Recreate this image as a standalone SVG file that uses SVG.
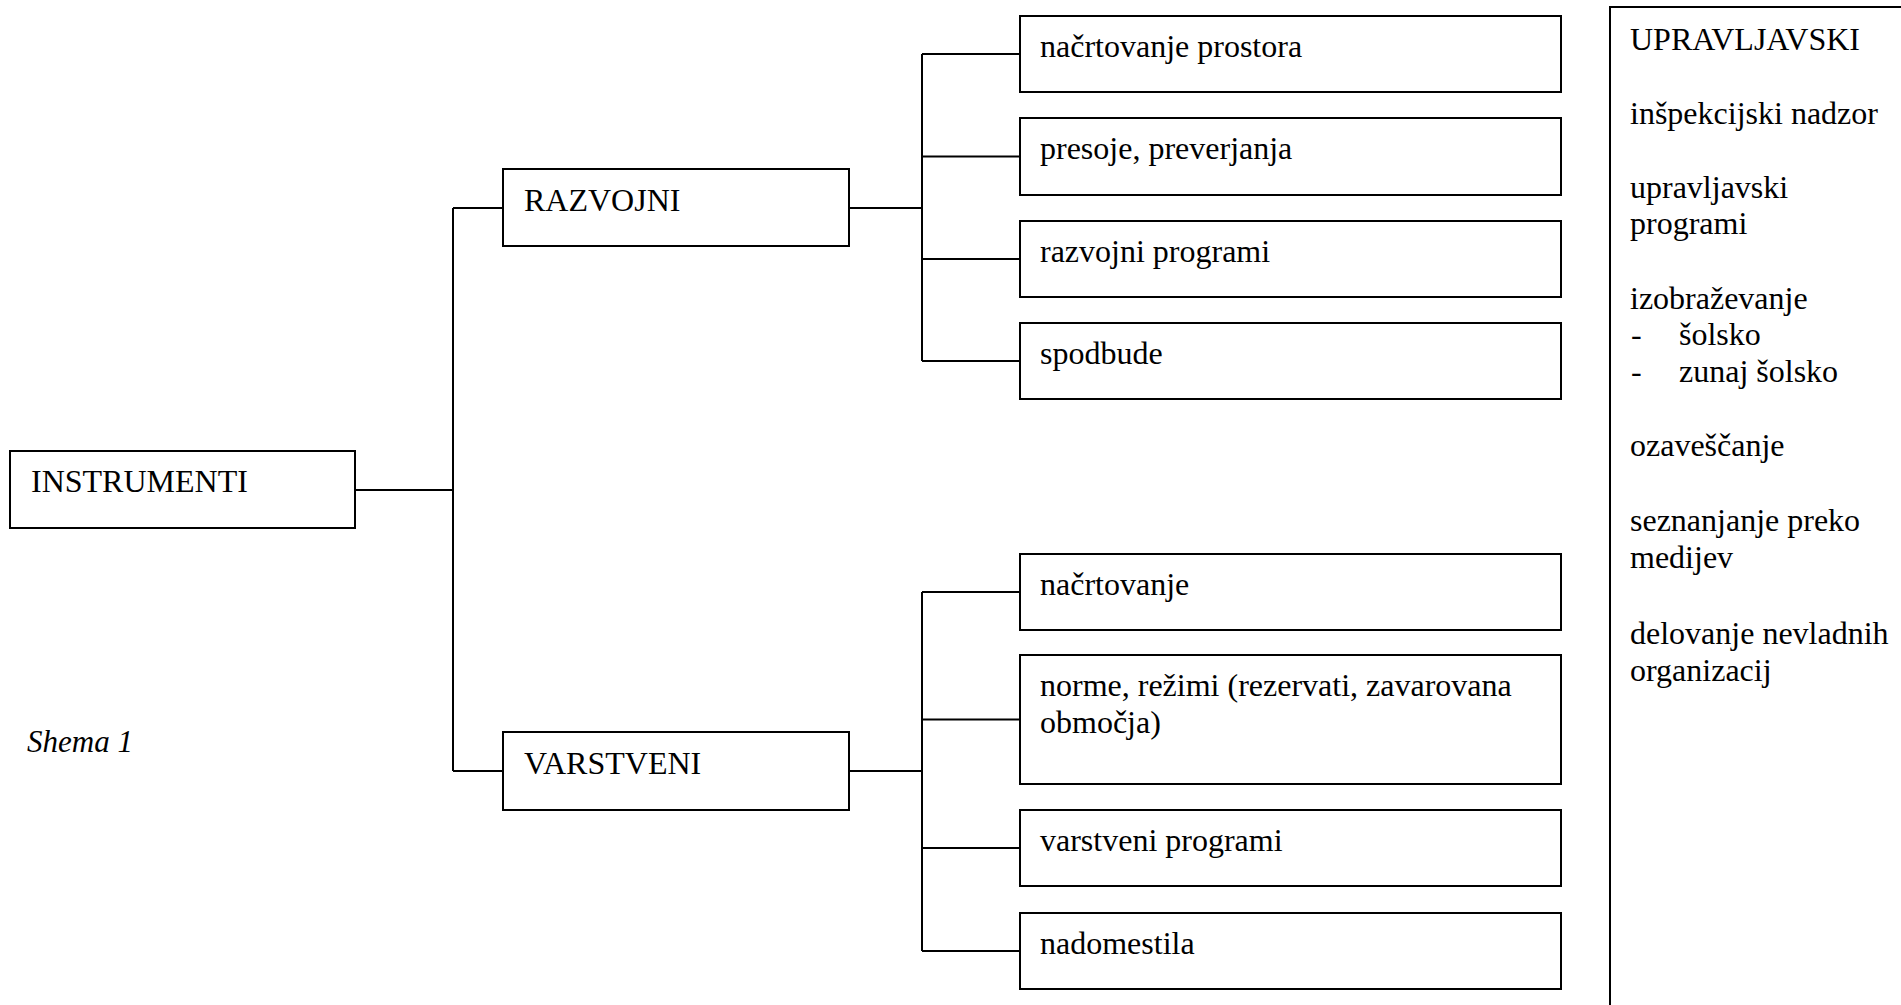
<svg xmlns="http://www.w3.org/2000/svg" width="1901" height="1005" viewBox="0 0 1901 1005">
<style>
  .box { fill: #ffffff; stroke: #000000; stroke-width: 2; }
  .ln { fill: none; stroke: #000000; stroke-width: 2; }
  .t { font-family: "Liberation Serif", "Times New Roman", serif; font-size: 32px; fill: #000000; }
  .it { font-family: "Liberation Serif", "Times New Roman", serif; font-size: 31px; font-style: italic; fill: #000000; }
</style>
<rect width="1901" height="1005" fill="#ffffff"/>
<g id="connectors">
  <path class="ln" d="M355 490 H453 M453 208 V771 M453 208 H503 M453 771 H503"/>
  <path class="ln" d="M849 208 H922 M922 54 V361 M922 54 H1020 M922 156.5 H1020 M922 259 H1020 M922 361 H1020"/>
  <path class="ln" d="M849 771 H922 M922 592 V951 M922 592 H1020 M922 719.5 H1020 M922 848 H1020 M922 951 H1020"/>
</g>
<g id="instrumenti">
  <rect class="box" x="10" y="451" width="345" height="77"/>
  <text class="t" x="31" y="492">INSTRUMENTI</text>
</g>
<g id="razvojni">
  <rect class="box" x="503" y="169" width="346" height="77"/>
  <text class="t" x="524" y="211">RAZVOJNI</text>
</g>
<g id="varstveni">
  <rect class="box" x="503" y="732" width="346" height="78"/>
  <text class="t" x="524" y="774">VARSTVENI</text>
</g>
<g id="r1">
  <rect class="box" x="1020" y="16" width="541" height="76"/>
  <text class="t" x="1040" y="57">načrtovanje prostora</text>
</g>
<g id="r2">
  <rect class="box" x="1020" y="118" width="541" height="77"/>
  <text class="t" x="1040" y="159">presoje, preverjanja</text>
</g>
<g id="r3">
  <rect class="box" x="1020" y="221" width="541" height="76"/>
  <text class="t" x="1040" y="262">razvojni programi</text>
</g>
<g id="r4">
  <rect class="box" x="1020" y="323" width="541" height="76"/>
  <text class="t" x="1040" y="364">spodbude</text>
</g>
<g id="v1">
  <rect class="box" x="1020" y="554" width="541" height="76"/>
  <text class="t" x="1040" y="595">načrtovanje</text>
</g>
<g id="v2">
  <rect class="box" x="1020" y="655" width="541" height="129"/>
  <text class="t" x="1040" y="696">norme, režimi (rezervati, zavarovana</text>
  <text class="t" x="1040" y="733">območja)</text>
</g>
<g id="v3">
  <rect class="box" x="1020" y="810" width="541" height="76"/>
  <text class="t" x="1040" y="851">varstveni programi</text>
</g>
<g id="v4">
  <rect class="box" x="1020" y="913" width="541" height="76"/>
  <text class="t" x="1040" y="954">nadomestila</text>
</g>
<g id="upravljavski">
  <path class="ln" d="M1610 1005 V7 H1901"/>
  <text class="t" x="1630" y="50">UPRAVLJAVSKI</text>
  <text class="t" x="1630" y="124">inšpekcijski nadzor</text>
  <text class="t" x="1630" y="197.5">upravljavski</text>
  <text class="t" x="1630" y="234">programi</text>
  <text class="t" x="1630" y="308.5">izobraževanje</text>
  <text class="t" x="1631" y="345">-</text>
  <text class="t" x="1679" y="345">šolsko</text>
  <text class="t" x="1631" y="381.5">-</text>
  <text class="t" x="1679" y="381.5">zunaj šolsko</text>
  <text class="t" x="1630" y="456">ozaveščanje</text>
  <text class="t" x="1630" y="531">seznanjanje preko</text>
  <text class="t" x="1630" y="567.5">medijev</text>
  <text class="t" x="1630" y="644">delovanje nevladnih</text>
  <text class="t" x="1630" y="680.5">organizacij</text>
</g>
<g id="caption">
  <text class="it" x="27" y="752">Shema 1</text>
</g>
</svg>
